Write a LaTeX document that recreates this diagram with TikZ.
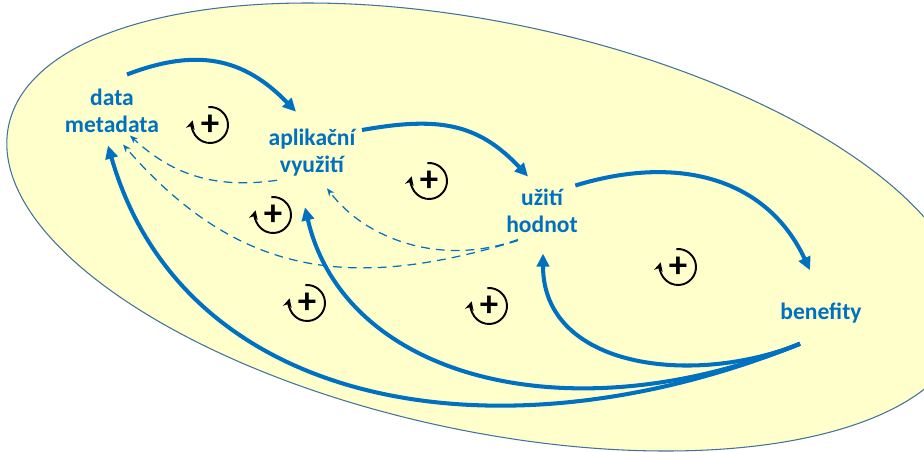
\documentclass[tikz,border=0pt]{standalone}
\usepackage{fontspec}
\setmainfont{Carlito}
\usepackage{tikz}
\usetikzlibrary{arrows.meta}
\definecolor{modra}{HTML}{0070C0}
\definecolor{zluta}{HTML}{FFFFCC}
\definecolor{okraj}{HTML}{41719C}

\begin{document}
\begin{tikzpicture}[
    pojem/.style={text=modra, font=\fontsize{13.4}{15.4}\selectfont\bfseries, align=center, inner sep=3pt},
    tok/.style={draw=modra, line width=2.3pt, -{Triangle[length=7.5pt,width=7pt]}},
    carka/.style={draw=modra, line width=0.7pt, dash pattern=on 5pt off 3.5pt, -{Stealth[length=4.5pt,width=3.5pt]}},
    smycka/.style={draw=black, line width=1.1pt, -{Stealth[length=5pt,width=5pt]}},
    znamenko/.style={font=\fontsize{21}{21}\selectfont\bfseries, inner sep=0pt}
]
        \clip (0,0) rectangle (18.48,9.02);

        % Background ellipse
        \draw[fill=zluta, draw=okraj, line width=0.6pt, rotate around={-12:(9.74,4.48)}]
            (9.74,4.48) ellipse [x radius=9.78, y radius=4.08];

        % Concepts
        \node[pojem] (data) at (2.24,6.80) {data\\metadata};
        \node[pojem] (apl) at (6.24,5.96) {aplikační\\využití};
        \node[pojem] (uziti) at (10.84,4.80) {užití\\hodnot};
        \node[pojem] (ben) at (16.42,2.76) {benefity};

        % Forward arrows
        \draw[tok] ([shift={(0.30,0.18)}]data.north) .. controls +(21:1.5) and +(134:1.5) .. ([shift={(-0.32,0.24)}]apl.north);
        \draw[tok] ([shift={(0.02,0.46)}]apl.east) .. controls +(10:1.5) and +(133:1.5) .. ([shift={(-0.28,0.14)}]uziti.north);
        \draw[tok] ([shift={(-0.16,-0.04)}]uziti.north east) .. controls +(17:2.2) and +(115:2) .. ([shift={(-0.22,0.54)}]ben.north);

        % Feedback from benefits
        \draw[tok] ([shift={(-0.42,-0.30)}]ben.south) .. controls +(202:2.3) and +(-90:2.3) .. ([shift={(0.02,-0.30)}]uziti.south);
        \draw[tok] ([shift={(-0.42,-0.30)}]ben.south) .. controls +(202:5) and +(-77:3.5) .. ([shift={(-0.14,-0.50)}]apl.south);
        \draw[tok] ([shift={(-0.42,-0.30)}]ben.south) .. controls +(202:6.5) and +(-74:5.5) .. ([shift={(-0.08,-0.14)}]data.south);

        % Dashed feedback
        \draw[carka] ([shift={(-0.70,0.04)}]apl.south) to[out=188,in=-43] ([shift={(0.36,0.06)}]data.south);
        \draw[carka] ([shift={(-0.48,-0.04)}]uziti.south) .. controls +(197:3.5) and +(-49:3.5) .. ([shift={(0.22,-0.12)}]data.south);
        \draw[carka] ([shift={(-0.48,-0.02)}]uziti.south) .. controls +(200:1.6) and +(-53:1.3) .. ([shift={(0.30,-0.12)}]apl.south);

        % Reinforcing loops
        \foreach \i/\x/\y in {1/4.20/6.52, 2/8.58/5.40, 3/5.46/4.72, 4/13.56/3.68, 5/6.14/2.96, 6/9.78/2.90} {
            \node[znamenko] (s\i) at (\x,\y) {+};
            \draw[smycka] ([shift={(95:0.36)}]s\i.center) arc[start angle=95, end angle=-195, radius=0.36];
        }
\end{tikzpicture}
\end{document}
